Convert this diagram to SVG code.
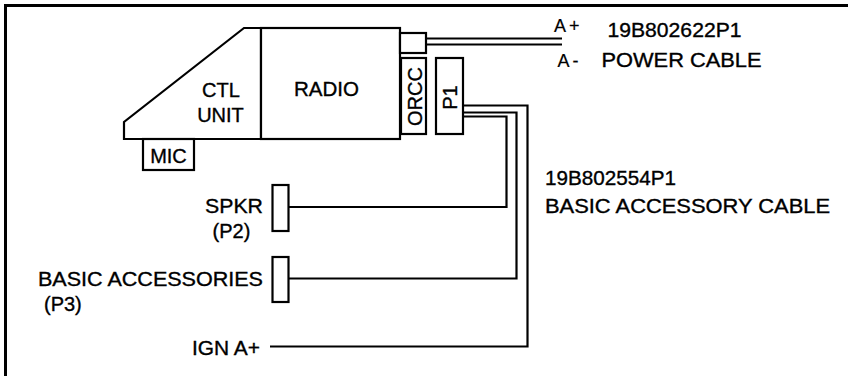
<svg xmlns="http://www.w3.org/2000/svg" width="848" height="376" viewBox="0 0 848 376">
<style>
.ln{fill:none;stroke:#000;stroke-width:2.2}
.bx{fill:#fff;stroke:#000;stroke-width:2.2}
.t{font-family:"Liberation Sans",Arial,sans-serif;font-size:20px;fill:#000;stroke:#000;stroke-width:0.35}
.s{font-size:18px;letter-spacing:3px;stroke-width:0.2}
</style>
<rect width="848" height="376" fill="#fff"/>
<g id="frame">
<rect x="4" y="4" width="844" height="3" fill="#000"/>
<rect x="4" y="4" width="3" height="372" fill="#000"/>
</g>
<g id="connectors">
<path class="ln" d="M426,38.5 H562 M426,44.5 H562"/>
<path class="ln" d="M463,105.5 H527.5 V346.5 H270"/>
<path class="ln" d="M463,112.5 H516.5 V278.5 H288.5"/>
<path class="ln" d="M463,116.5 H506.5 V207 H288.5"/>
</g>
<g id="ctl-unit">
<path class="bx" d="M244,28 L261,28 L261,139 L124,139 L124,122 Z"/>
<text class="t" x="221" y="97" text-anchor="middle">CTL</text>
<text class="t" x="220.5" y="121.5" text-anchor="middle">UNIT</text>
</g>
<g id="radio">
<rect class="bx" x="261" y="28" width="139" height="111"/>
<text class="t" x="326.5" y="95.5" text-anchor="middle" textLength="65" lengthAdjust="spacingAndGlyphs">RADIO</text>
</g>
<g id="mic">
<rect class="bx" x="143" y="139" width="51" height="31"/>
<text class="t" x="168.5" y="163" text-anchor="middle">MIC</text>
</g>
<g id="power-connector">
<rect class="bx" x="400" y="33" width="26" height="20"/>
</g>
<g id="orcc">
<rect class="bx" x="401" y="58" width="25" height="76"/>
<text class="t" transform="translate(421.5,96.5) rotate(-90)" text-anchor="middle">ORCC</text>
</g>
<g id="p1">
<rect class="bx" x="436" y="58" width="27" height="76"/>
<text class="t" transform="translate(457,97.5) rotate(-90)" text-anchor="middle">P1</text>
</g>
<g id="spkr">
<rect class="bx" x="272.5" y="185" width="16" height="46"/>
<text class="t" x="263" y="213" text-anchor="end" textLength="58" lengthAdjust="spacingAndGlyphs">SPKR</text>
<text class="t" x="231.5" y="238" text-anchor="middle">(P2)</text>
</g>
<g id="basic-accessories">
<rect class="bx" x="272.5" y="257" width="16" height="45"/>
<text class="t" x="38" y="285.5" textLength="225" lengthAdjust="spacingAndGlyphs">BASIC ACCESSORIES</text>
<text class="t" x="44" y="311">(P3)</text>
</g>
<g id="ign">
<text class="t" x="260" y="355" text-anchor="end" textLength="68" lengthAdjust="spacingAndGlyphs">IGN A+</text>
</g>
<g id="power-cable-label">
<text class="t s" x="554" y="32">A+</text>
<text class="t s" x="557.5" y="67">A-</text>
<text class="t" x="607.5" y="36.5" textLength="134" lengthAdjust="spacingAndGlyphs">19B802622P1</text>
<text class="t" x="601.5" y="66.5" textLength="160" lengthAdjust="spacingAndGlyphs">POWER CABLE</text>
</g>
<g id="accessory-cable-label">
<text class="t" x="545" y="185" textLength="131" lengthAdjust="spacingAndGlyphs">19B802554P1</text>
<text class="t" x="545" y="213" textLength="285" lengthAdjust="spacingAndGlyphs">BASIC ACCESSORY CABLE</text>
</g>
</svg>
